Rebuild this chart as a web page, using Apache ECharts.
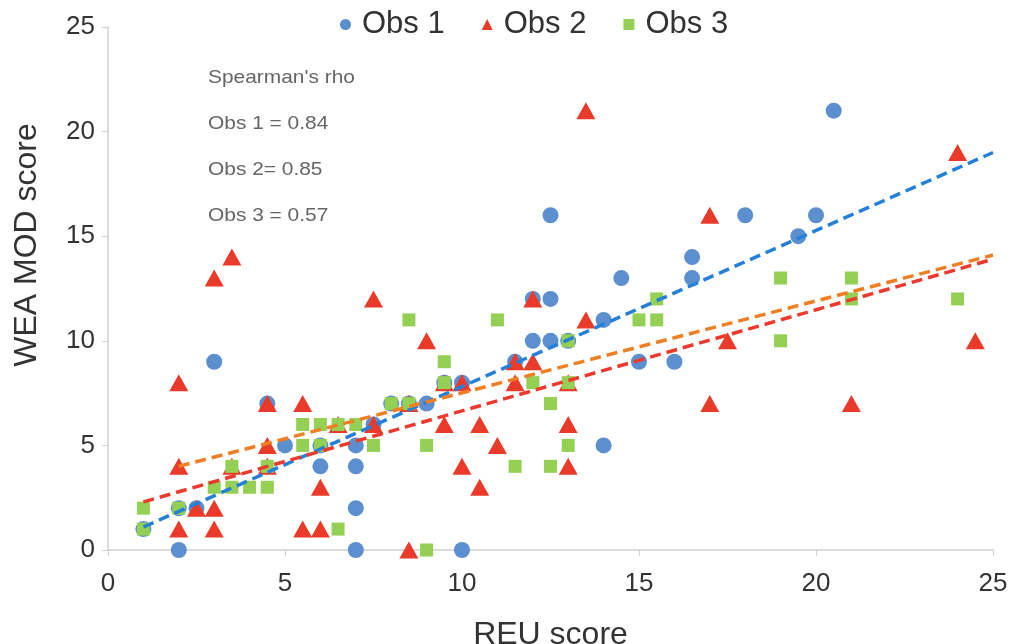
<!DOCTYPE html>
<html>
<head>
<meta charset="utf-8">
<script src="https://cdn.jsdelivr.net/npm/echarts@6/dist/echarts.min.js"></script>
<style>html,body{margin:0;padding:0;background:#fff;}#c{width:1014px;height:644px;}</style>
</head>
<body>
<div id="c"></div>
<script>
// Obs 1 (blue circles): [REU score, WEA MOD score]
var obs1 = [[1,1],[2,0],[2,2],[2.5,2],[3,9],[4.5,7],[5,5],[6,4],[6,5],[7,5],[7,4],[7,2],[7,0],[7.5,6],[8,7],[8.5,7],[9,7],[9.5,8],[10,8],[10,0],[11.5,9],[12,10],[12.5,10],[13,10],[12,12],[12.5,12],[12.5,16],[14,11],[14,5],[14.5,13],[15,9],[16,9],[16.5,13],[16.5,14],[18,16],[19.5,15],[20,16],[20.5,21]];
// Obs 2 (red triangles)
var obs2 = [[2,8],[2,4],[2,1],[2.5,2],[3,13],[3,2],[3,1],[3.5,14],[3.5,4],[4.5,7],[4.5,5],[4.5,4],[5.5,7],[5.5,1],[6,3],[6,1],[6.5,6],[7.5,12],[7.5,6],[8.5,7],[8.5,0],[9,10],[9.5,8],[9.5,6],[10,8],[10,4],[10.5,6],[10.5,3],[11,5],[11.5,9],[11.5,8],[12,12],[12,9],[13,8],[13,6],[13,4],[13.5,21],[13.5,11],[17,16],[17,7],[17.5,10],[21,7],[24,19],[24.5,10]];
// Obs 3 (green squares)
var obs3 = [[1,2],[1,1],[2,2],[3,3],[3.5,4],[3.5,3],[4,3],[4.5,4],[4.5,3],[5.5,6],[5.5,5],[6,6],[6,5],[6.5,6],[6.5,1],[7,6],[7.5,5],[8,7],[8.5,7],[8.5,11],[9,5],[9,0],[9.5,9],[9.5,8],[11,11],[11.5,4],[12,8],[12.5,7],[12.5,4],[13,10],[13,8],[13,5],[15,11],[15.5,11],[15.5,12],[19,13],[19,10],[21,13],[21,12],[24,12]];
// Trend line end points
var trendBlue = [[1,1.1],[25,19]];
var trendOrange = [[2,4.0],[25,14.1]];
var trendRed = [[1,2.3],[25,13.9]];
var xTicks = [0,5,10,15,20,25];
var yTicks = [0,5,10,15,20,25];
var seriesNames = ['Obs 1','Obs 2','Obs 3'];
var rhoLines = ["Spearman's rho","Obs 1 = 0.84","Obs 2= 0.85","Obs 3 = 0.57"];

var FONT = '"Liberation Sans", Arial, sans-serif';
var chart = echarts.init(document.getElementById('c'), null, {renderer:'canvas'});
function dashed(data, color){
  return {type:'line', data:data, showSymbol:false, symbol:'none', silent:true, z:5,
    lineStyle:{color:color, width:3.5, type:[11,6]}};
}
var graphics = rhoLines.map(function(t,i){
  return {type:'text', left:208, top:68 + i*46, z:10, scaleX:1.1,
    style:{text:t, font:'19px ' + FONT, fill:'#666'}};
});
graphics.push({type:'text', x:27, y:245, rotation:Math.PI/2, z:10,
  style:{text:'WEA MOD score', font:'32px ' + FONT, fill:'#333', align:'center', verticalAlign:'middle'}});
chart.setOption({
  animation:false,
  backgroundColor:'#fff',
  grid:{left:108, right:21, top:27, bottom:94, containLabel:false, outerBoundsMode:'none'},
  legend:{data:seriesNames, top:4, left:335, itemWidth:11, itemHeight:11, itemGap:37,
    textStyle:{fontSize:31, fontFamily:FONT, color:'#333', padding:[0,0,0,6]}},
  xAxis:{type:'value', min:0, max:25, interval:5,
    name:'REU score', nameLocation:'middle', nameGap:69,
    nameTextStyle:{fontSize:32, fontFamily:FONT, color:'#333'},
    axisLine:{show:true, lineStyle:{color:'#d0d0d0', width:1.5}},
    axisTick:{show:true, length:6, inside:false, lineStyle:{color:'#d0d0d0'}},
    axisLabel:{fontSize:26, fontFamily:FONT, color:'#333', margin:21},
    splitLine:{show:false}},
  yAxis:{type:'value', min:0, max:25, interval:5,
    axisLine:{show:true, lineStyle:{color:'#d0d0d0', width:1.5}},
    axisTick:{show:true, length:6, lineStyle:{color:'#d0d0d0'}},
    axisLabel:{fontSize:26, fontFamily:FONT, color:'#333', margin:13},
    splitLine:{show:false}},
  graphic:graphics,
  series:[
    {name:seriesNames[0], type:'scatter', data:obs1, symbol:'circle', symbolSize:16, z:2,
      itemStyle:{color:'#5B8FD0', opacity:1}},
    {name:seriesNames[1], type:'scatter', data:obs2, symbol:'triangle', symbolSize:[19,17], z:3,
      itemStyle:{color:'#EA3A2A', opacity:1}},
    {name:seriesNames[2], type:'scatter', data:obs3, symbol:'rect', symbolSize:13, z:4,
      itemStyle:{color:'#94D054', opacity:1}},
    dashed(trendBlue, '#2480D8'),
    dashed(trendOrange, '#F07E22'),
    dashed(trendRed, '#EE3A2C')
  ]
});
</script>
</body>
</html>
